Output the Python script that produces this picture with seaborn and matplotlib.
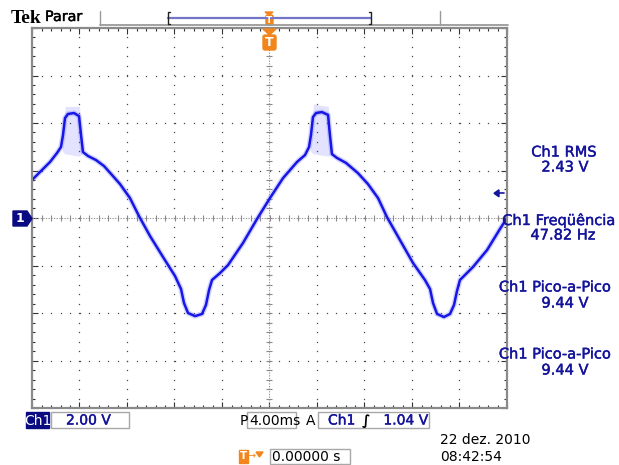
import numpy as np
import pandas as pd
import matplotlib
matplotlib.use("Agg")
import matplotlib.pyplot as plt
from matplotlib.patches import Rectangle, Polygon, FancyBboxPatch
import matplotlib.patheffects as pe
import seaborn as sns

# ---- captured trace (time in ms, voltage in V) ----
time_ms = [-20.00, -19.16, -18.48, -17.89, -17.56, -17.39, -17.22, -16.97, -16.46, -16.04,
           -15.87, -15.71, -15.28, -14.61, -13.94, -13.26, -12.59, -11.75, -10.99, -10.06,
           -8.97, -7.96, -7.45, -7.20, -6.86, -6.27, -5.68, -5.35, -5.09, -4.84,
           -4.17, -3.49, -2.23, -1.05, 0.04, 1.14, 2.32, 2.99, 3.33, 3.49,
           3.66, 3.92, 4.42, 4.93, 5.09, 5.26, 5.68, 6.44, 7.45, 8.29,
           9.14, 9.89, 10.99, 12.08, 13.09, 13.52, 13.77, 14.11, 14.69, 15.20,
           15.54, 15.79, 16.04, 17.14, 18.32, 19.41, 20.00]
volts = [1.60, 2.02, 2.36, 2.74, 2.99, 3.49, 4.21, 4.38, 4.42, 4.29,
         3.49, 2.78, 2.61, 2.44, 2.19, 1.81, 1.43, 0.84, 0.08, -0.76,
         -1.64, -2.44, -2.99, -3.58, -4.00, -4.13, -4.04, -3.66, -3.03, -2.61,
         -2.32, -1.98, -1.05, -0.04, 0.84, 1.68, 2.36, 2.65, 2.99, 3.49,
         4.25, 4.42, 4.46, 4.34, 3.49, 2.69, 2.53, 2.32, 1.89, 1.43,
         0.84, 0.04, -0.93, -1.89, -2.61, -2.99, -3.58, -4.04, -4.17, -4.04,
         -3.66, -3.07, -2.61, -2.06, -1.35, -0.46, 0.00]

# spread of the acquired samples around the crest of each half cycle
hat_t = [[-17.45, -17.2, -16.0, -15.8], [3.45, 3.7, 4.95, 5.15]]
hat_hi = [[3.2, 4.7, 4.7, 3.1], [3.2, 4.8, 4.7, 3.1]]
hat_lo = [[2.8, 2.7, 2.6, 2.7], [2.8, 2.7, 2.6, 2.7]]

# ---- readouts ----
meas_names = ["Ch1 RMS", "Ch1 Freqüência", "Ch1 Pico-a-Pico", "Ch1 Pico-a-Pico"]
meas_values = ["2.43 V", "47.82 Hz", "9.44 V", "9.44 V"]
volts_per_div = "2.00 V"
time_per_div = "4.00ms"
trig_level = 1.04
trig_text = "1.04 V"
h_pos = "0.00000 s"
date_txt = "22 dez. 2010"
clock_txt = "08:42:54"

W, H = 619, 465
NAVY = "#14149b"
TRACE = "#1616e6"
ORANGE = "#f2861c"
GRAY = "#8a8a8a"

sns.set_style("white")
plt.rcParams["font.family"] = ["DejaVu Sans"]

fig = plt.figure(figsize=(W / 100, H / 100), dpi=100)
fig.patch.set_facecolor("white")

# graticule: 10 x 8 divisions
x0, x1, y0, y1 = 32, 507, 28, 408
ax = fig.add_axes([x0 / W, 1 - y1 / H, (x1 - x0) / W, (y1 - y0) / H])
ax.set_xlim(-20, 20)
ax.set_ylim(-8, 8)
ax.set_facecolor("white")

dot_c = "#4a4a4a"
gx = np.arange(-20, 20.01, 0.8)
gy = np.arange(-8, 8.01, 0.4)
for tv in [-16, -12, -8, -4, 4, 8, 12, 16]:
    ax.plot(np.full_like(gy, tv), gy, ls="none", marker="s", ms=0.9, color=dot_c, mew=0)
for vv in [-6, -4, -2, 2, 4, 6]:
    ax.plot(gx, np.full_like(gx, vv), ls="none", marker="s", ms=0.9, color=dot_c, mew=0)
# centre cross with fine ticks
ax.axhline(0, color="#9a9a9a", lw=0.8, ls=(0, (1.2, 1.2)))
ax.axvline(0, color="#9a9a9a", lw=0.8, ls=(0, (1.2, 1.2)))
ax.plot(gx, np.zeros_like(gx), ls="none", marker="|", ms=4.5, mew=0.8, color="#8a8a8a")
ax.plot(np.zeros_like(gy), gy, ls="none", marker="_", ms=4.5, mew=0.8, color="#8a8a8a")

ax.set_xticks(np.arange(-20, 20.01, 4))
ax.set_yticks(np.arange(-8, 8.01, 2))
ax.set_xticks(gx, minor=True)
ax.set_yticks(gy, minor=True)
ax.tick_params(which="both", direction="in", top=True, right=True, bottom=True, left=True,
               labelbottom=False, labelleft=False, color="#333333", width=0.8)
ax.tick_params(which="major", length=4)
ax.tick_params(which="minor", length=2.5)
for s in ax.spines.values():
    s.set_color(GRAY)
    s.set_linewidth(1.6)

# acquired waveform
trace = pd.DataFrame({"t": time_ms, "v": volts})
for ht, hh, hl in zip(hat_t, hat_hi, hat_lo):
    ax.fill_between(ht, hl, hh, color="#8080ff", alpha=0.22, lw=0)
sns.lineplot(data=trace, x="t", y="v", ax=ax, color="#6c6cff", lw=3.8, alpha=0.3,
             sort=False, estimator=None)
sns.lineplot(data=trace, x="t", y="v", ax=ax, color=TRACE, lw=1.8, sort=False, estimator=None)
ax.set_xlabel("")
ax.set_ylabel("")

# ---- screen annotations in pixel coordinates ----
ov = fig.add_axes([0, 0, 1, 1], zorder=5)
ov.set_xlim(0, W)
ov.set_ylim(H, 0)
ov.axis("off")
ov.patch.set_alpha(0)

heavy = [pe.withStroke(linewidth=0.3, foreground=NAVY)]
heavy_k = [pe.withStroke(linewidth=0.3, foreground="black")]

ov.text(11, 23, "Tek", fontsize=14, fontweight="bold", family="Liberation Serif",
        color="black", va="baseline")
ov.text(45, 21, "Parar", fontsize=10.3, color="black", va="baseline", path_effects=heavy_k)
ov.plot([100, 100], [11, 25], color="#9a9a9a", lw=1)
ov.plot([440, 440], [11, 25], color="#9a9a9a", lw=1)
ov.plot([100, 508], [25.5, 25.5], color="#9a9a9a", lw=1.3)
# record window bar
ov.plot([168, 371], [18, 18], color="#7474c8", lw=1.6)
ov.plot([170, 168, 168, 170], [12, 12, 24, 24], color="#222222", lw=1)
ov.plot([369, 371, 371, 369], [12, 12, 24, 24], color="#222222", lw=1)
ov.add_patch(Polygon([[265, 12], [273, 12], [269, 15]], color=ORANGE))
ov.add_patch(FancyBboxPatch((266, 15), 7, 10, boxstyle="round,pad=0,rounding_size=1.5",
                            color=ORANGE))
ov.text(269.5, 20.5, "T", fontsize=6.5, color="white", ha="center", va="center",
        fontweight="bold")
# trigger position marker
ov.add_patch(Polygon([[263, 29], [276, 29], [269.5, 35]], color=ORANGE))
ov.add_patch(FancyBboxPatch((263, 35), 13, 15, boxstyle="round,pad=0,rounding_size=2",
                            color=ORANGE))
ov.text(269.5, 42.5, "T", fontsize=9, color="white", ha="center", va="center",
        fontweight="bold")

# channel 1 ground marker
ov.add_patch(Polygon([[13, 211], [27, 211], [32, 218.5], [27, 226], [13, 226]],
                     color="#0a0a82"))
ov.text(20, 218.5, "1", fontsize=9, color="white", ha="center", va="center",
        fontweight="bold")
# trigger level arrow (1.04 V)
ty = 218 - trig_level / 2 * 47.5
ov.plot([497, 504], [ty, ty], color=NAVY, lw=1.2)
ov.add_patch(Polygon([[494, ty], [499, ty - 3.5], [499, ty + 3.5]], color=NAVY))

# measurement readouts
name_x = [564, 559, 555, 555]
val_x = [565, 563, 565, 565]
name_y = [152, 220, 287, 354]
val_y = [167, 235, 303, 370]
for nm, vl, nx, vx, ny, vy in zip(meas_names, meas_values, name_x, val_x, name_y, val_y):
    ov.text(nx, ny, nm, fontsize=10.5, color=NAVY, ha="center", va="center",
            path_effects=heavy)
    ov.text(vx, vy, vl, fontsize=10.5, color=NAVY, ha="center", va="center",
            path_effects=heavy)

# bottom status line
ov.add_patch(Rectangle((26, 412), 23, 16, color="#0a0a82"))
ov.text(37.5, 420.5, "Ch1", fontsize=10, color="white", ha="center", va="center")
ov.add_patch(Rectangle((51, 412), 78, 16, fill=False, ec="#a8a8a8", lw=1))
ov.text(66, 420.5, volts_per_div, fontsize=10, color=NAVY, ha="left", va="center",
        path_effects=heavy)
ov.text(240, 420.5, "P", fontsize=10, color="black", ha="left", va="center")
ov.add_patch(Rectangle((247, 412), 49, 16, fill=False, ec="#a8a8a8", lw=1))
ov.text(249, 420.5, time_per_div, fontsize=10, color="black", ha="left", va="center")
ov.text(306, 420.5, "A", fontsize=10, color="black", ha="left", va="center")
ov.add_patch(Rectangle((318, 412), 111, 16, fill=False, ec="#a8a8a8", lw=1))
ov.text(328, 420.5, "Ch1", fontsize=10, color=NAVY, ha="left", va="center",
        path_effects=heavy)
ov.text(362, 420.5, "∫", fontsize=10, color="black", ha="left", va="center",
        fontweight="bold")
ov.text(428, 420.5, trig_text, fontsize=10, color=NAVY, ha="right", va="center",
        path_effects=heavy)

ov.text(440, 440, date_txt, fontsize=10, color="black", ha="left", va="center")
ov.text(440, 457, clock_txt, fontsize=10, color="black", ha="left", va="center")

ov.add_patch(Rectangle((239, 449.5), 8.5, 13, color=ORANGE))
ov.text(243.2, 456, "T", fontsize=7.5, color="white", ha="center", va="center",
        fontweight="bold")
ov.text(248, 456, "→", fontsize=7, color=ORANGE, ha="left", va="center")
ov.add_patch(Polygon([[256, 452], [263, 452], [259.5, 457]], color=ORANGE))
ov.add_patch(Rectangle((270, 448.5), 80, 15.5, fill=False, ec="#a8a8a8", lw=1))
ov.text(272, 456.5, h_pos, fontsize=10, color="black", ha="left", va="center")

fig.savefig("out.png", dpi=100, facecolor="white")
